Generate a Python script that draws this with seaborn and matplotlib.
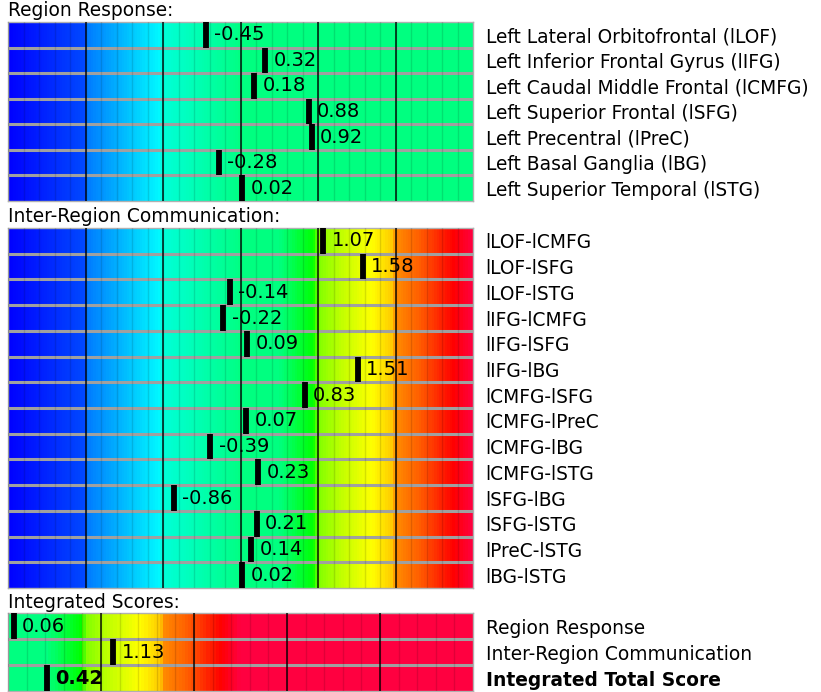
import numpy as np
import matplotlib
matplotlib.use("Agg")
import matplotlib.pyplot as plt
import matplotlib.transforms as mtransforms
from matplotlib.colors import LinearSegmentedColormap
import seaborn as sns

region_labels = ['Left Lateral Orbitofrontal (lLOF)', 'Left Inferior Frontal Gyrus (lIFG)',
                 'Left Caudal Middle Frontal (lCMFG)', 'Left Superior Frontal (lSFG)',
                 'Left Precentral (lPreC)', 'Left Basal Ganglia (lBG)',
                 'Left Superior Temporal (lSTG)']
region_values = [-0.45, 0.32, 0.18, 0.88, 0.92, -0.28, 0.02]

comm_labels = ['lLOF-lCMFG', 'lLOF-lSFG', 'lLOF-lSTG', 'lIFG-lCMFG', 'lIFG-lSFG', 'lIFG-lBG',
               'lCMFG-lSFG', 'lCMFG-lPreC', 'lCMFG-lBG', 'lCMFG-lSTG', 'lSFG-lBG',
               'lSFG-lSTG', 'lPreC-lSTG', 'lBG-lSTG']
comm_values = [1.07, 1.58, -0.14, -0.22, 0.09, 1.51, 0.83, 0.07, -0.39, 0.23, -0.86,
               0.21, 0.14, 0.02]

score_labels = ['Region Response', 'Inter-Region Communication', 'Integrated Total Score']
score_values = [0.06, 1.13, 0.42]

# colour ramp, anchored on a -3..3 scale
anchors = [(-3.0, '#0000ff'), (-2.02, '#0048ff'), (-2.0, '#0078ff'), (-1.05, '#00f8ff'),
           (-1.0, '#00ffd8'), (-0.05, '#00ff88'), (0.0, '#00ff80'), (0.5, '#00ff80'),
           (0.95, '#00ff00'), (1.0, '#80ff00'), (1.3, '#c0ff00'), (1.7, '#ffff00'),
           (1.97, '#ffc800'), (2.0, '#ff8c00'), (2.3, '#ff6000'), (2.6, '#ff2000'),
           (2.75, '#ff0000'), (3.0, '#ff0040')]
cmap = LinearSegmentedColormap.from_list(
    'score', [((v + 3) / 6, c) for v, c in anchors], N=512)

W, H = 821, 692
fig = plt.figure(figsize=(W / 100, H / 100), dpi=100)
FS = 13.4
FS_VAL = 14


def panel(top, bottom, title, labels, values, lo, hi, clip_hi, crange):
    ax = fig.add_axes([8 / W, 1 - bottom / H, 465 / W, (bottom - top) / H])
    n = len(values)
    ncol = int((hi - lo) * 30)
    edges = np.linspace(lo, hi, ncol + 1)
    centers = np.minimum((edges[:-1] + edges[1:]) / 2, clip_hi)
    grid = np.tile(centers, (n, 1))
    sns.heatmap(grid, ax=ax, cmap=cmap, vmin=-crange, vmax=crange, cbar=False,
                xticklabels=False, yticklabels=labels, rasterized=True)
    ax.yaxis.tick_right()
    ax.tick_params(axis='y', length=0, pad=9, labelsize=FS, rotation=0)
    for t in ax.get_yticklabels():
        if t.get_text() == 'Integrated Total Score':
            t.set_fontweight('bold')

    ax2 = ax.twiny()
    ax2.set_xlim(lo, hi)
    ax2.axis('off')
    for v in np.arange(lo, hi, 0.2):
        ax2.axvline(v, color='black', alpha=0.12, lw=1)
    for v in range(int(lo) + 1, int(hi)):
        ax2.axvline(v, color='black', alpha=0.85, lw=1.2)
    for i in range(1, n):
        ax.axhline(i, color='#a0a0a0', lw=2.2, zorder=5)

    off = mtransforms.offset_copy(ax2.transData, fig=fig, x=6, y=0, units='points')
    for i, v in enumerate(values):
        ax2.vlines(v, i, i + 1, color='black', lw=4.2, zorder=4)
        bold = 'bold' if labels[i] == 'Integrated Total Score' else 'normal'
        ax2.text(v, i + 0.5, f'{v:.2f}', transform=off, ha='left', va='center',
                 fontsize=FS_VAL, fontweight=bold, zorder=6)
    for s in ax.spines.values():
        s.set_visible(True)
        s.set_color('#b0b0b0')
        s.set_linewidth(1)
    fig.text(8 / W, 1 - (top - 11) / H, title, ha='left', va='center', fontsize=FS)


panel(22, 201, 'Region Response:', region_labels, region_values, -3, 3, 0.0, 3)
panel(228, 588, 'Inter-Region Communication:', comm_labels, comm_values, -3, 3, 3, 3)
panel(613, 691, 'Integrated Scores:', score_labels, score_values, 0, 5, 5, 2.5)

fig.savefig('out.png', dpi=100)
